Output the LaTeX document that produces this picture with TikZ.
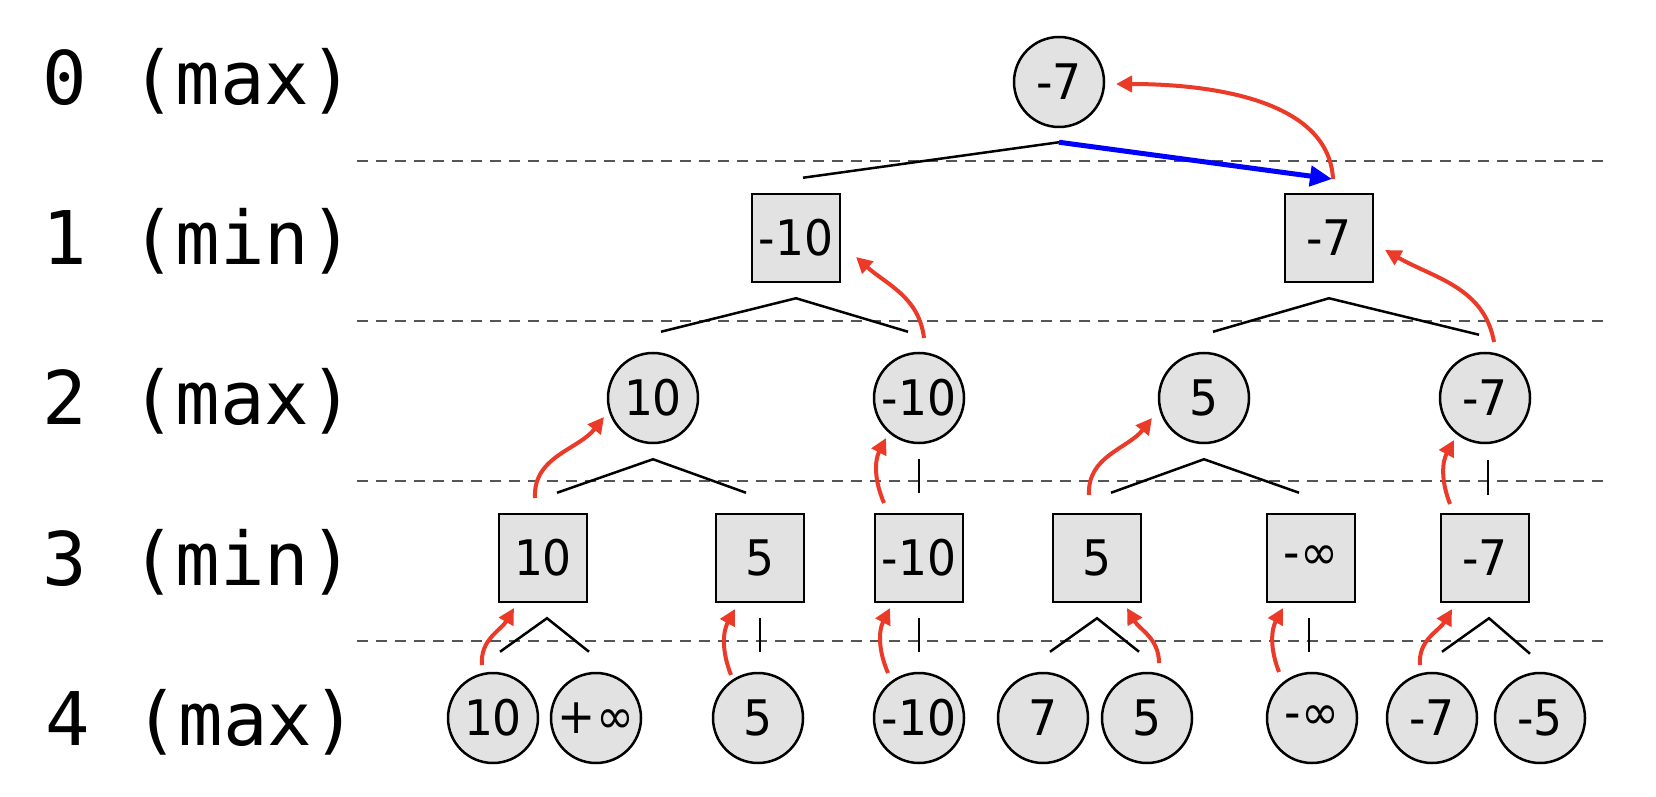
\documentclass[tikz,border=0pt]{standalone}
\usepackage{fontspec}
\usetikzlibrary{arrows.meta,calc}
\newfontfamily\nodefont{DejaVu Sans}[FakeStretch=0.93]
\newfontfamily\levelfont{DejaVu Sans Mono}
\definecolor{nodegray}{RGB}{226,226,226}
\definecolor{arrred}{RGB}{236,58,40}
\definecolor{dashgray}{RGB}{85,85,85}
\definecolor{pureblue}{RGB}{0,0,255}
\begin{document}
\begin{tikzpicture}[x=1pt,y=1pt,
  maxnode/.style={circle, draw=black, line width=2.5pt, fill=nodegray, minimum size=90pt, inner sep=0pt, font=\nodefont\fontsize{49}{55}\selectfont},
  minnode/.style={rectangle, draw=black, line width=2.5pt, fill=nodegray, minimum size=88pt, inner sep=0pt, font=\nodefont\fontsize{49}{55}\selectfont},
  levellabel/.style={anchor=base west, inner sep=0pt, font=\levelfont\fontsize{74}{80}\selectfont},
  sepline/.style={dashgray, line width=2pt, dash pattern=on 11pt off 8pt},
  treeline/.style={black, line width=2.5pt},
  backarrow/.style={arrred, line width=4pt, -{Triangle[length=16pt,width=16pt]}},
  bestmove/.style={pureblue, line width=5pt, -{Triangle[length=22pt,width=20pt]}}
]
\fill[white] (0,0) rectangle (1656,796);
\useasboundingbox (0,0) rectangle (1656,796);

% level labels
\node[levellabel] (l0) at (42,691) {0 (max)};
\node[levellabel] (l1) at (42,531) {1 (min)};
\node[levellabel] (l2) at (42,371) {2 (max)};
\node[levellabel] (l3) at (42,211) {3 (min)};
\node[levellabel] (l4) at (45,51) {4 (max)};

% separators
\coordinate (s1a) at (357,635); \coordinate (s1b) at (1603,635);
\coordinate (s2a) at (357,475); \coordinate (s2b) at (1603,475);
\coordinate (s3a) at (357,315); \coordinate (s3b) at (1603,315);
\coordinate (s4a) at (357,155); \coordinate (s4b) at (1603,155);
\draw[sepline] (s1a) -- (s1b);
\draw[sepline] (s2a) -- (s2b);
\draw[sepline] (s3a) -- (s3b);
\draw[sepline] (s4a) -- (s4b);

% nodes
\node[maxnode] (r) at (1059,714) {-7};
\node[minnode] (a) at (796,558) {-10};
\node[minnode] (b) at (1329,558) {-7};
\node[maxnode] (aa) at (653,398) {10};
\node[maxnode] (ab) at (919,398) {-10};
\node[maxnode] (ba) at (1204,398) {5};
\node[maxnode] (bb) at (1485,398) {-7};
\node[minnode] (aaa) at (543,238) {10};
\node[minnode] (aab) at (760,238) {5};
\node[minnode] (aba) at (919,238) {-10};
\node[minnode] (baa) at (1097,238) {5};
\node[minnode] (bab) at (1311,238) {-∞};
\node[minnode] (bba) at (1485,238) {-7};
\node[maxnode] (n1) at (493,78) {10};
\node[maxnode] (n2) at (596,78) {+∞};
\node[maxnode] (n3) at (758,78) {5};
\node[maxnode] (n4) at (919,78) {-10};
\node[maxnode] (n5) at (1043,78) {7};
\node[maxnode] (n6) at (1147,78) {5};
\node[maxnode] (n7) at (1312,78) {-∞};
\node[maxnode] (n8) at (1432,78) {-7};
\node[maxnode] (n9) at (1540,78) {-5};

% tree lines
\draw[treeline] ($(a.north)+(7,15)$) -- ($(r.south)+(0,-14)$);
\draw[treeline] ($(aa.north)+(8,20)$) -- ($(a.south)+(0,-15)$) -- ($(ab.north)+(-11,20)$);
\draw[treeline] ($(ba.north)+(9,20)$) -- ($(b.south)+(0,-15)$) -- ($(bb.north)+(-6,17)$);
\draw[treeline] ($(aaa.north)+(14,20)$) -- ($(aa.south)+(0,-15)$) -- ($(aab.north)+(-14,20)$);
\draw[treeline] ($(ab.south)+(0,-15)$) -- ($(aba.north)+(0,20)$);
\draw[treeline] ($(baa.north)+(14,20)$) -- ($(ba.south)+(0,-15)$) -- ($(bab.north)+(-12,20)$);
\draw[treeline] ($(bb.south)+(3,-16)$) -- ($(bba.north)+(3,18)$);
\draw[treeline] ($(n1.north)+(7,20)$) -- ($(aaa.south)+(4,-15)$) -- ($(n2.north)+(-7,20)$);
\draw[treeline] ($(aab.south)+(0,-15)$) -- ($(n3.north)+(2,20)$);
\draw[treeline] ($(aba.south)+(0,-15)$) -- ($(n4.north)+(0,20)$);
\draw[treeline] ($(n5.north)+(7,20)$) -- ($(baa.south)+(0,-15)$) -- ($(n6.north)+(-8,20)$);
\draw[treeline] ($(bab.south)+(-2,-15)$) -- ($(n7.north)+(-3,20)$);
\draw[treeline] ($(n8.north)+(10,20)$) -- ($(bba.south)+(4,-15)$) -- ($(n9.north)+(-10,18)$);

% best move
\draw[bestmove] ($(r.south)+(0,-14)$) -- ($(b.center)+(3,59)$);

% backed-up values
\draw[backarrow] ($(b.center)+(4,59)$) to[out=93,in=0,looseness=0.9] ($(r.center)+(57,-2)$);
\draw[backarrow] ($(ab.center)+(5,60)$) to[out=97,in=-42] ($(a.center)+(60,-19)$);
\draw[backarrow] ($(bb.center)+(9,56)$) to[out=100,in=-30] ($(b.center)+(56,-12)$);
\draw[backarrow] ($(aaa.center)+(-8,60)$) to[out=93,in=-128] ($(aa.center)+(-49,-19)$);
\draw[backarrow] ($(aba.center)+(-35,55)$) to[bend left=25] ($(ab.center)+(-33,-40)$);
\draw[backarrow] ($(baa.center)+(-8,63)$) to[out=93,in=-128] ($(ba.center)+(-52,-20)$);
\draw[backarrow] ($(bba.center)+(-35,54)$) to[bend left=25] ($(bb.center)+(-31,-42)$);
\draw[backarrow] ($(n1.center)+(-11,53)$) to[out=95,in=-120] ($(aaa.center)+(-29,-50)$);
\draw[backarrow] ($(n3.center)+(-27,43)$) to[bend left=25] ($(aab.center)+(-25,-51)$);
\draw[backarrow] ($(n4.center)+(-31,45)$) to[bend left=25] ($(aba.center)+(-29,-50)$);
\draw[backarrow] ($(n6.center)+(12,55)$) to[out=90,in=-60] ($(baa.center)+(30,-50)$);
\draw[backarrow] ($(n7.center)+(-33,46)$) to[bend left=25] ($(bab.center)+(-28,-50)$);
\draw[backarrow] ($(n8.center)+(-12,53)$) to[out=95,in=-120] ($(bba.center)+(-33,-51)$);
\end{tikzpicture}
\end{document}
